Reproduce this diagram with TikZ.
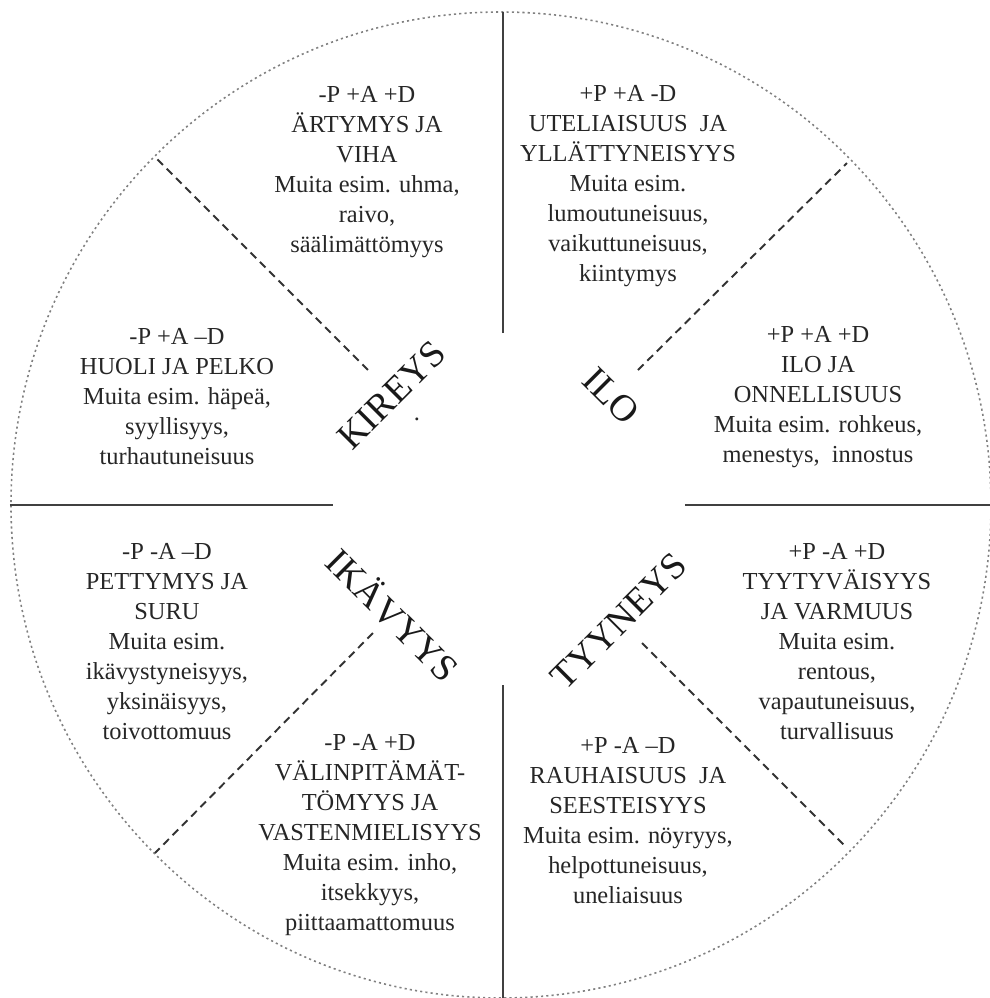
\documentclass[tikz,border=0pt]{standalone}
\usepackage{fontspec}
\setmainfont{Liberation Serif}
\begin{document}
\begin{tikzpicture}
\tikzset{txt/.style={align=center, text=black!85, inner sep=0pt, font=\fontsize{13.9}{17.07}\selectfont},
 lbl/.style={text=black!90, inner sep=0pt, font=\fontsize{21.3}{25}\selectfont},
 sep/.style={draw=black!75, line width=1.6pt},
 div/.style={draw=black!80, line width=1.1pt, dash pattern=on 4.5pt off 3pt}}

\useasboundingbox (-10.02,-9.86) rectangle (9.78,10.1);

% Outer circle
\draw[gray, line width=0.9pt, dash pattern=on 1.2pt off 1.8pt] (0,0) ellipse [x radius=9.8, y radius=9.86];

% Main axes
\draw[sep] (0.04,3.44) -- (0.04,9.86);
\draw[sep] (-9.82,0) -- (-3.36,0);
\draw[sep] (3.68,0) -- (9.78,0);
\draw[sep] (0.04,-3.6) -- (0.04,-9.86);

% Dashed dividers
\draw[div] (-2.66,2.7) -- (-6.92,6.96);
\draw[div] (2.74,2.7) -- (6.92,6.84);
\draw[div] (-2.56,-2.56) -- (-6.92,-6.96);
\draw[div] (2.82,-2.76) -- (6.92,-6.86);

% Quarter labels
\node[lbl, rotate=45] (kireys) at (-2.18,2.2) {KIREYS};
\node[anchor=base, text=black!85, inner sep=0pt, font=\fontsize{13.9}{17.07}\selectfont] (piste) at (-1.68,1.7) {.};
\node[lbl, rotate=-45] (ilo) at (2.2,2.18) {ILO};
\node[lbl, rotate=-45] (ikavyys) at (-2.14,-2.18) {IKÄVYYS};
\node[lbl, rotate=45] (tyyneys) at (2.36,-2.32) {TYYNEYS};

% Sectors, upper half
\node[txt] (artymys) at (-2.68,6.66)
{-P +A +D\\ÄRTYMYS JA\\VIHA\\Muita esim. uhma,\\raivo,\\säälimättömyys};
\node[txt] (huoli) at (-6.48,2.16)
{-P +A –D\\HUOLI JA PELKO\\Muita esim. häpeä,\\syyllisyys,\\turhautuneisuus};
\node[txt] (uteliaisuus) at (2.54,6.38)
{+P +A -D\\UTELIAISUUS\ \ JA\\YLLÄTTYNEISYYS\\Muita esim.\\lumoutuneisuus,\\vaikuttuneisuus,\\kiintymys};
\node[txt] (onnellisuus) at (6.34,2.16)
{+P +A +D\\ILO JA\\ONNELLISUUS\\Muita esim. rohkeus,\\menestys,\ \ innostus};

% Sectors, lower half
\node[txt] (pettymys) at (-6.68,-2.74)
{-P -A –D\\PETTYMYS JA\\SURU\\Muita esim.\\ikävystyneisyys,\\yksinäisyys,\\toivottomuus};
\node[txt] (valinpitamattomyys) at (-2.62,-6.6)
{-P -A +D\\VÄLINPITÄMÄT-\\TÖMYYS JA\\VASTENMIELISYYS\\Muita esim. inho,\\itsekkyys,\\piittaamattomuus};
\node[txt] (tyytyvaisyys) at (6.72,-2.74)
{+P -A +D\\TYYTYVÄISYYS\\JA VARMUUS\\Muita esim.\\rentous,\\vapautuneisuus,\\turvallisuus};
\node[txt] (rauhaisuus) at (2.54,-6.32)
{+P -A –D\\RAUHAISUUS\ \ JA\\SEESTEISYYS\\Muita esim. nöyryys,\\helpottuneisuus,\\uneliaisuus};

\end{tikzpicture}
\end{document}
